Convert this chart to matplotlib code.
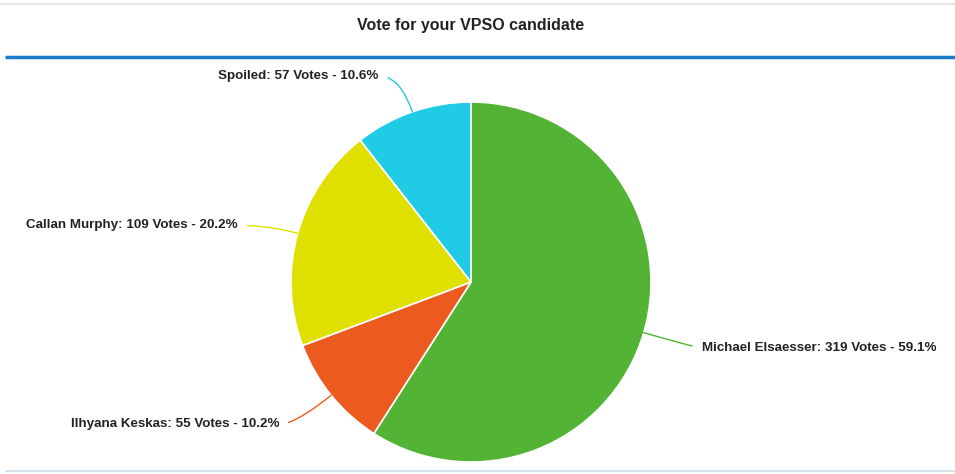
import matplotlib.pyplot as plt
import numpy as np

plt.rcParams['font.family'] = ['Liberation Sans', 'DejaVu Sans']

title = 'Vote for your VPSO candidate'
names = ['Michael Elsaesser', 'Ilhyana Keskas', 'Callan Murphy', 'Spoiled']
votes = [319, 55, 109, 57]
colors = ['#52b335', '#ec5a1f', '#dfe000', '#1fcbe5']

W, H = 955, 474
fig = plt.figure(figsize=(W / 100, H / 100), dpi=100)
ax = fig.add_axes([0, 0, 1, 1])

# frame lines
ax.plot([0, W], [H - 3.5, H - 3.5], color='#e4e4e4', lw=1.5, solid_capstyle='butt')
ax.plot([5, W], [H - 57, H - 57], color='#1b7cc9', lw=2.5, solid_capstyle='butt')
ax.plot([5, W], [H - 471, H - 471], color='#d0dbe6', lw=1.2, solid_capstyle='butt')
ax.text(471, H - 25, title, ha='center', va='center', fontsize=11.5,
        fontweight='bold', color='#222222')

cx, cy, r = 471, H - 282, 180
wedges, _ = ax.pie(votes, colors=colors, startangle=90, counterclock=False,
                   center=(cx, cy), radius=r, frame=True,
                   wedgeprops=dict(edgecolor='white', linewidth=1.2))
ax.set_xlim(0, W)
ax.set_ylim(0, H)
ax.set_aspect('equal')
ax.axis('off')

total = sum(votes)
# label offsets (dx, dy) from the slice edge point, in pixels
offsets = [(58, -15), (-52, -29), (-60, 8), (-34, 36)]
for w, name, v, col, (dx, dy) in zip(wedges, names, votes, colors, offsets):
    ang = np.deg2rad((w.theta1 + w.theta2) / 2)
    ex, ey = cx + r * np.cos(ang), cy + r * np.sin(ang)
    right = dx > 0
    ax.annotate(f'{name}: {v} Votes - {v / total * 100:.1f}%',
                xy=(ex, ey), xytext=(ex + dx, ey + dy),
                ha='left' if right else 'right', va='center',
                fontsize=9.6, fontweight='bold', color='#222222',
                arrowprops=dict(arrowstyle='-', color=col, lw=1,
                                shrinkA=5, shrinkB=0,
                                relpos=(0, 0.5) if right else (1, 0.5),
                                connectionstyle=f'angle3,angleA=0,angleB={np.rad2deg(ang):.1f}'))

fig.savefig('out.png', dpi=100)
